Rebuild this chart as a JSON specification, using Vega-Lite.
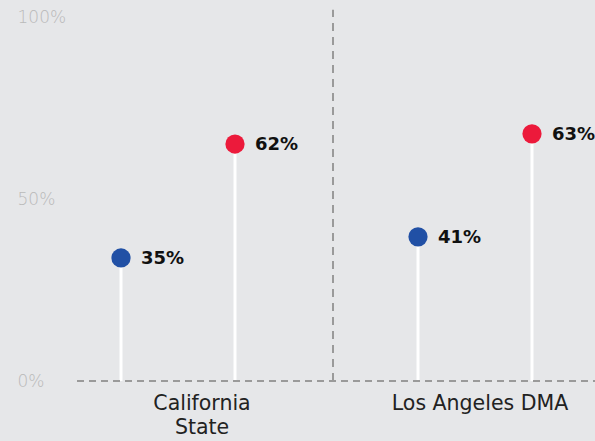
{
  "$schema": "https://vega.github.io/schema/vega-lite/v6.json",
  "width": 520,
  "height": 364,
  "autosize": {"type": "none"},
  "padding": {"left": 75, "right": 0, "top": 17, "bottom": 60},
  "background": "#e6e7e9",
  "config": {"view": {"stroke": null}, "font": "DejaVu Sans"},
  "datasets": {
    "points": [
      {"region": "California State", "series": "A", "pos": 46, "value": 0.338, "label": "35%"},
      {"region": "California State", "series": "B", "pos": 160, "value": 0.651, "label": "62%"},
      {"region": "Los Angeles DMA", "series": "A", "pos": 343, "value": 0.396, "label": "41%"},
      {"region": "Los Angeles DMA", "series": "B", "pos": 457, "value": 0.679, "label": "63%"}
    ],
    "cats": [
      {"name": "California\nState", "pos": 127, "y": 0},
      {"name": "Los Angeles DMA", "pos": 405, "y": 0}
    ],
    "base": [{"x1": 2, "x2": 520, "y": 0}],
    "sep": [{"x": 258, "y1": 0, "y2": 1.02}]
  },
  "layer": [
    {
      "data": {"name": "points"},
      "mark": {"type": "rule", "color": "#ffffff", "strokeWidth": 3},
      "encoding": {
        "x": {"field": "pos", "type": "quantitative", "scale": {"domain": [0, 520], "nice": false, "zero": false}, "axis": null},
        "y": {"field": "value", "type": "quantitative"},
        "y2": {"datum": 0}
      }
    },
    {
      "data": {"name": "base"},
      "mark": {"type": "rule", "color": "#9a9a9a", "strokeWidth": 2, "strokeDash": [7, 5]},
      "encoding": {
        "x": {"field": "x1", "type": "quantitative"},
        "x2": {"field": "x2"},
        "y": {"field": "y", "type": "quantitative"}
      }
    },
    {
      "data": {"name": "sep"},
      "mark": {"type": "rule", "color": "#9a9a9a", "strokeWidth": 2, "strokeDash": [8, 6], "clip": false},
      "encoding": {
        "x": {"field": "x", "type": "quantitative"},
        "y": {"field": "y1", "type": "quantitative"},
        "y2": {"field": "y2"}
      }
    },
    {
      "data": {"name": "points"},
      "mark": {"type": "circle", "size": 370, "opacity": 1},
      "encoding": {
        "x": {"field": "pos", "type": "quantitative"},
        "y": {
          "field": "value",
          "type": "quantitative",
          "scale": {"domain": [0, 1], "nice": false},
          "axis": {
            "values": [0, 0.5, 1],
            "format": ".0%",
            "title": null,
            "domain": false,
            "grid": false,
            "ticks": false,
            "tickSize": 0,
            "labelAlign": "left",
            "labelPadding": 58,
            "labelColor": "#bababa",
            "labelFontSize": 17,
            "labelFont": "DejaVu Sans",
            "labelFontWeight": 200
          }
        },
        "color": {
          "field": "series",
          "type": "nominal",
          "scale": {"domain": ["A", "B"], "range": ["#2150a5", "#ec1a3b"]},
          "legend": null
        }
      }
    },
    {
      "data": {"name": "points"},
      "mark": {"type": "text", "align": "left", "baseline": "middle", "dx": 20, "dy": 1, "fontSize": 18, "fontWeight": "bold", "color": "#111111"},
      "encoding": {
        "x": {"field": "pos", "type": "quantitative"},
        "y": {"field": "value", "type": "quantitative"},
        "text": {"field": "label"}
      }
    },
    {
      "data": {"name": "cats"},
      "mark": {"type": "text", "align": "center", "baseline": "top", "dy": 13, "fontSize": 20.5, "lineHeight": 24, "lineBreak": "\n", "color": "#222222"},
      "encoding": {
        "x": {"field": "pos", "type": "quantitative"},
        "y": {"field": "y", "type": "quantitative"},
        "text": {"field": "name"}
      }
    }
  ]
}
